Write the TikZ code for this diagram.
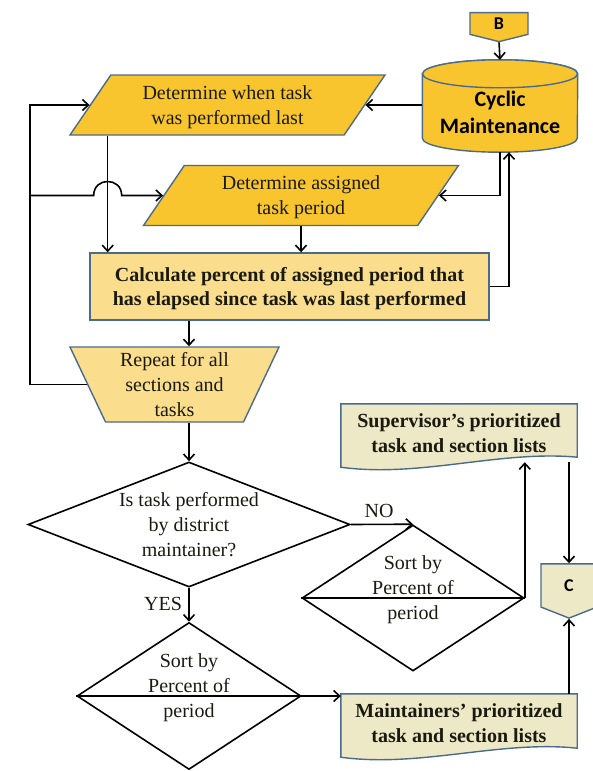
\documentclass[tikz,border=0pt]{standalone}
\usepackage{fontspec}
\setmainfont{Liberation Serif}
\newfontfamily\calib{Carlito}
\usetikzlibrary{arrows.meta,positioning,shapes.geometric,shapes.symbols,backgrounds}
\definecolor{Gold}{HTML}{F9C52E}
\definecolor{Goldp}{HTML}{FADD8D}
\definecolor{Tan}{HTML}{EDE8C6}
\definecolor{Edge}{HTML}{4A6B8C}
\definecolor{Ink}{HTML}{1A1A10}

\begin{document}
\begin{tikzpicture}[x=1pt,y=-1pt,
  txt/.style={font=\rmfamily\mdseries\fontsize{20}{25}\selectfont,text=Ink,align=center,text depth=0pt},
  bld/.style={font=\rmfamily\bfseries\fontsize{20}{24.5}\selectfont,text=Ink,align=center,text depth=0pt},
  io/.style={trapezium,trapezium left angle=43.6,trapezium right angle=136.4,
    trapezium stretches body,draw=Edge,line width=1.4pt,fill=Gold,
    minimum height=60pt,minimum width=315pt,inner sep=0pt,txt},
  proc/.style={rectangle,draw=Edge,line width=1.4pt,fill=Goldp,inner sep=0pt,bld},
  dec/.style={diamond,draw,line width=1.6pt,inner sep=0pt,aspect=2.5},
  cnct/.style={signal,signal to=south,signal from=nowhere,draw=Edge,line width=1.4pt,
    inner sep=0pt,font=\calib\bfseries\fontsize{18}{18}\selectfont},
  docu/.style={draw=Edge,line width=1.4pt,fill=Tan},
  store/.style={draw=Edge,line width=1.4pt,fill=Gold},
  arr/.style={line width=1.6pt,-{Straight Barb[length=6pt,width=11pt,line width=1.6pt]}}]
  \useasboundingbox (0,0) rectangle (593,771);

  % store and inputs
  \node[cnct,fill=Gold,signal pointer angle=152,minimum width=58pt,minimum height=23pt] (cnB) at (499,23.5) {B};
  \node[minimum width=155pt,minimum height=92pt,inner sep=0pt] (cyl) at (500,106) {};
  \node[align=center,font=\calib\bfseries\fontsize{22}{27}\selectfont] (cyltxt)
    at ([yshift=-6.5pt]cyl.center) {Cyclic\\Maintenance};
  \begin{scope}[on background layer]
    \draw[store] ([yshift=-14pt]cyl.north west) -- ([yshift=14pt]cyl.south west)
      arc[start angle=180,end angle=0,x radius=77.5,y radius=14]
      -- ([yshift=-14pt]cyl.north east)
      arc[start angle=0,end angle=-180,x radius=77.5,y radius=14] -- cycle;
    \draw[store] ([yshift=-14pt]cyl.north) ellipse[x radius=77.5,y radius=14];
  \end{scope}
  \node[io] (det1) at (227.5,105) {Determine when task\\was performed last};
  \node[io] (det2) at (301,195.5) {Determine assigned\\task period};
  \node[proc,minimum width=399pt,minimum height=67pt] (calc) at (289.5,286.5)
    {Calculate percent of assigned period that\\has elapsed since task was last performed};
  \node[trapezium,trapezium left angle=119,trapezium right angle=119,trapezium stretches body,
    draw=Edge,line width=1.4pt,fill=Goldp,minimum width=209pt,minimum height=75pt,inner sep=0pt,txt]
    (rep) at (174.5,384.5) {Repeat for all\\sections and\\tasks};

  % decisions and sorts
  \node[dec,minimum width=322pt,minimum height=125pt,txt] (dia1) at (189,524.5)
    {Is task performed\\by district\\maintainer?};
  \node[dec,minimum width=222pt,minimum height=146pt] (sortN) at (413,598) {};
  \node[dec,minimum width=224pt,minimum height=147pt] (sortY) at (189,696) {};
  \node[txt] (sortNt) at ([yshift=10pt]sortN.center) {Sort by\\Percent of\\period};
  \node[txt] (sortYt) at ([yshift=10pt]sortY.center) {Sort by\\Percent of\\period};
  \draw[line width=1.6pt] (sortN.west) -- (sortN.east);
  \draw[line width=1.6pt] (sortY.west) -- (sortY.east);

  % output documents
  \node[bld,minimum width=236pt,minimum height=58pt] (sup) at (459,433)
    {Supervisor's prioritized\\task and section lists};
  \node[bld,minimum width=236pt,minimum height=58pt] (mnt) at (459,723)
    {Maintainers' prioritized\\task and section lists};
  \begin{scope}[on background layer]
    \draw[docu] (sup.north west) -- (sup.north east) -- ([yshift=5pt]sup.south east)
      .. controls (500,450) and (420,478) .. ([yshift=-5pt]sup.south west) -- cycle;
    \draw[docu] (mnt.north west) -- (mnt.north east) -- ([yshift=4pt]mnt.south east)
      .. controls (500,740) and (420,768) .. ([yshift=-5pt]mnt.south west) -- cycle;
  \end{scope}
  \node[cnct,fill=Tan,signal pointer angle=137,minimum width=56pt,minimum height=45pt] (cnC) at (569,585.5) {C};

  % connectors
  \coordinate (lp) at (30,384);
  \coordinate (dv) at ([xshift=39pt]det1.bottom left corner);
  \draw[arr] (cnB.south) -- (cyl.north);
  \draw[arr] (cyl.west |- det1.east) -- (det1.east);
  \draw[arr] (cyl.south) |- (det2.east);
  \draw[arr] (rep.west) -- (rep.west -| lp) |- (det1.west);
  \draw[arr] (lp |- det2.west) -- ([xshift=-14pt]dv |- det2.west)
    .. controls +(0,-18.7) and +(0,-18.7) .. ([xshift=14pt]dv |- det2.west) -- (det2.west);
  \draw[arr] (dv) -- (dv |- calc.north);
  \draw[arr] (det2.south) -- (det2.south |- calc.north);
  \draw[arr] (calc.east) -| ([xshift=9pt]cyl.south);
  \draw[arr] (calc.south -| dia1.north) -- (rep.north -| dia1.north);
  \draw[arr] (rep.south -| dia1.north) -- (dia1.north);
  \draw[arr] (dia1.east) -- (sortN.north);
  \node[txt] (nol) at (379,511) {NO};
  \draw[arr] (dia1.south) -- (sortY.north);
  \node[txt] (yesl) at (163,604) {YES};
  \draw[arr] (sortN.east) -- (sortN.east |- sup.south);
  \draw[arr] (sortY.east) -- (sortY.east -| mnt.west);
  \draw[arr] (sup.south -| cnC.north) -- (cnC.north);
  \draw[arr] (mnt.north -| cnC.south) -- (cnC.south);
\end{tikzpicture}
\end{document}
